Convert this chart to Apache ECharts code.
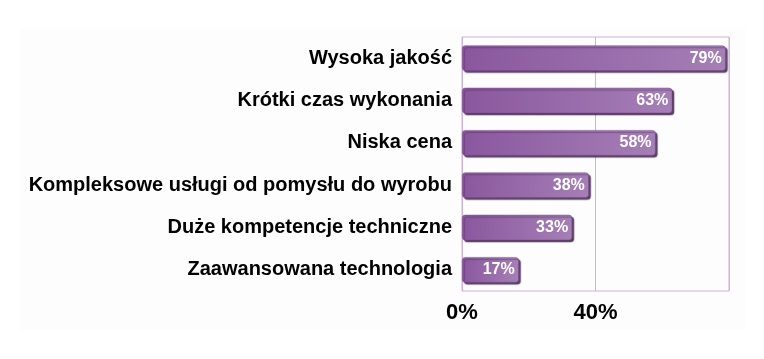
<!DOCTYPE html>
<html><head><meta charset="utf-8">
<script src="https://cdn.jsdelivr.net/npm/echarts@6/dist/echarts.min.js"></script>
<style>html,body{margin:0;padding:0;background:#fff}#c{width:764px;height:359px}</style>
</head><body><div id="c"></div>
<script>
const categories = ["Wysoka jakość", "Krótki czas wykonania", "Niska cena", "Kompleksowe usługi od pomysłu do wyrobu", "Duże kompetencje techniczne", "Zaawansowana technologia"];
const values = [79, 63, 58, 38, 33, 17];
const tickLabels = {0: "0%", 40: "40%"};

const chart = echarts.init(document.getElementById('c'), null, {renderer: 'canvas'});
chart.setOption({
  animation: false,
  backgroundColor: '#ffffff',
  graphic: [{type: 'rect', z: -10, shape: {x: 20, y: 28, width: 726, height: 302}, style: {fill: '#fdfdfd'}}],
  grid: {left: 462, right: 35, top: 37, bottom: 68, show: true, borderColor: '#cfb2d6', borderWidth: 1, backgroundColor: 'transparent'},
  xAxis: {
    type: 'value', min: 0, max: 80, interval: 40,
    axisLine: {show: false}, axisTick: {show: false},
    splitLine: {show: true, lineStyle: {color: '#cfb2d6', width: 1}},
    axisLabel: {
      formatter: v => tickLabels[v] || '',
      color: '#000', fontFamily: '"Liberation Sans Narrow", "Liberation Sans", Arial', fontWeight: 'bold', fontSize: 22, margin: 11
    }
  },
  yAxis: {
    type: 'category', data: categories, inverse: true,
    axisLine: {show: false}, axisTick: {show: false}, splitLine: {show: false},
    axisLabel: {color: '#000', fontFamily: '"Liberation Sans", Arial', fontWeight: 'bold', fontSize: 20, margin: 10}
  },
  series: [{
    type: 'bar', data: values, barWidth: '60%',
    itemStyle: {
      borderRadius: 3,
      color: new echarts.graphic.LinearGradient(0, 0, 1, 0, [
        {offset: 0, color: '#8a579e'}, {offset: 1, color: '#a57fb6'}
      ]),
      borderColor: '#7a4a8e', borderWidth: 0.5,
      shadowColor: 'rgba(60,30,70,0.85)', shadowBlur: 1, shadowOffsetX: 2, shadowOffsetY: 2
    },
    label: {
      show: true, position: 'insideRight', formatter: '{c}%', distance: 4,
      color: '#fff', fontFamily: '"Liberation Sans", Arial', fontWeight: 'bold', fontSize: 16
    }
  }]
});
</script></body></html>
